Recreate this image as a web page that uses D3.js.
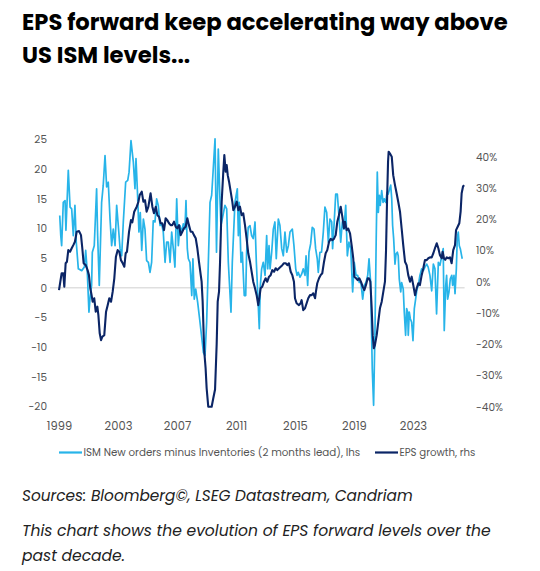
<!DOCTYPE html>
<html>
<head>
<meta charset="utf-8">
<script src="https://cdn.jsdelivr.net/npm/d3@7"></script>
<style>
  body { margin: 0; background: #fff; }
  text { font-family: Poppins, Inter, "Open Sans", sans-serif; }
</style>
</head>
<body>
<div id="chart"></div>
<script>
// ISM new orders minus inventories (2 months lead), lhs
var ismDates = [1999.05,1999.12,1999.18,1999.29,1999.41,1999.47,1999.63,1999.75,1999.86,1999.97,
  2000.08,2000.17,2000.31,2000.54,2000.72,2000.81,2000.92,2001.03,2001.12,2001.21,2001.26,2001.39,
  2001.55,2001.62,2001.73,2001.89,2002.00,2002.12,2002.23,2002.34,2002.46,2002.57,2002.68,2002.80,
  2002.91,2003.02,2003.14,2003.25,2003.36,2003.52,2003.66,2003.75,2003.88,2004.04,2004.15,2004.22,
  2004.32,2004.42,2004.51,2004.61,2004.72,2004.83,2004.94,2005.06,2005.17,2005.28,2005.39,2005.51,
  2005.62,2005.73,2005.85,2005.96,2006.07,2006.19,2006.30,2006.41,2006.53,2006.64,2006.75,2006.86,
  2006.98,2007.09,2007.20,2007.32,2007.43,2007.54,2007.61,2007.70,2007.77,2007.88,2008.00,2008.08,
  2008.17,2008.27,2008.40,2008.56,2008.79,2008.90,2009.01,2009.12,2009.24,2009.35,2009.46,2009.58,
  2009.68,2009.80,2009.92,2009.98,2010.25,2010.37,2010.48,2010.66,2010.75,2010.93,2011.09,2011.16,
  2011.22,2011.34,2011.43,2011.56,2011.66,2011.72,2011.83,2011.95,2012.06,2012.17,2012.29,2012.38,
  2012.47,2012.58,2012.65,2012.74,2012.85,2012.97,2013.08,2013.15,2013.24,2013.31,2013.42,2013.53,
  2013.64,2013.73,2013.87,2013.98,2014.10,2014.21,2014.32,2014.44,2014.55,2014.66,2014.82,2014.93,
  2015.05,2015.14,2015.22,2015.34,2015.45,2015.56,2015.68,2015.75,2015.86,2015.95,2016.06,2016.17,
  2016.29,2016.40,2016.51,2016.58,2016.69,2016.80,2016.92,2017.03,2017.15,2017.26,2017.37,2017.49,
  2017.55,2017.66,2017.76,2017.87,2017.98,2018.10,2018.21,2018.32,2018.44,2018.55,2018.66,2018.78,
  2018.91,2019.02,2019.14,2019.25,2019.36,2019.47,2019.59,2019.70,2019.81,2019.93,2020.02,2020.13,
  2020.24,2020.33,2020.42,2020.51,2020.58,2020.65,2020.72,2020.78,2020.88,2020.97,2021.05,2021.15,
  2021.24,2021.32,2021.42,2021.49,2021.56,2021.62,2021.69,2021.78,2021.85,2021.94,2022.00,2022.07,
  2022.17,2022.23,2022.34,2022.41,2022.50,2022.57,2022.64,2022.68,2022.75,2022.82,2022.91,2023.00,
  2023.09,2023.18,2023.27,2023.36,2023.47,2023.59,2023.70,2023.81,2023.93,2024.03,2024.15,2024.27,
  2024.38,2024.49,2024.60,2024.72,2024.83,2024.95,2025.05,2025.12,2025.22,2025.28,2025.35,2025.44,
  2025.53,2025.63,2025.69,2025.78,2025.85,2025.94,2026.00,2026.07,2026.14,2026.21,2026.30,2026.34];
var ismValues = [12.2,8.8,7.1,14.4,14.7,9.7,19.8,13.6,13.3,8.8,
  13.9,7.7,3.2,2.9,3.5,6.3,2.6,-4.1,-1.3,0.4,6.0,7.1,
  16.7,8.8,0.4,14.4,17.3,22.3,17.0,17.8,11.6,7.1,9.9,7.1,
  13.9,10.5,6.6,5.4,11.1,17.8,18.1,19.5,24.8,21.2,16.7,21.8,
  16.1,9.4,12.7,6.3,11.6,9.9,4.6,4.3,2.6,4.3,11.3,11.1,
  15.0,13.9,10.5,10.8,9.4,4.3,7.7,7.7,4.3,9.4,6.6,3.5,
  15.0,7.1,10.5,9.4,10.8,9.9,14.7,6.6,4.9,4.3,-1.3,4.9,
  -1.9,-0.2,-2.4,-5.8,-10.9,-11.4,-5.8,3.8,14.4,15.6,20.1,25.1,
  6.0,23.4,14.4,10.5,13.9,13.3,4.3,-4.1,4.3,14.4,16.7,8.8,
  14.4,4.3,6.0,-1.3,-1.3,6.0,10.2,10.5,8.8,8.3,11.1,4.3,
  -0.7,-6.9,0.4,3.2,4.3,2.1,8.8,3.2,7.1,3.2,6.0,9.9,
  11.1,4.9,11.6,10.5,6.6,5.4,9.4,6.0,7.1,9.4,9.9,7.1,
  3.2,2.1,2.6,1.8,2.3,3.2,2.1,5.4,0.4,6.0,7.4,10.2,
  9.9,6.6,4.9,2.6,6.0,6.0,9.4,13.6,12.7,7.7,11.6,11.1,
  6.6,11.1,15.8,15.8,12.2,7.7,11.1,9.9,13.9,5.4,7.7,6.6,
  -0.7,4.3,2.1,2.1,0.9,0.9,-1.9,0.4,0.9,2.1,4.9,0.9,
  -13.7,-19.8,-8.0,8.8,19.5,12.7,15.6,13.9,16.4,14.4,15.0,14.4,
  16.1,15.8,16.7,17.3,15.0,10.5,8.3,4.0,5.7,6.0,5.4,1.5,
  -0.7,0.9,-0.2,-4.1,-8.0,-3.5,-4.1,-8.0,-4.1,-5.2,-5.8,-8.9,
  -3.5,-1.9,-0.2,0.4,2.1,3.2,2.9,3.5,4.0,3.5,2.1,-0.5,
  4.0,3.2,-4.4,4.3,3.8,5.4,6.6,-7.2,0.4,2.1,-1.9,-0.7,
  1.5,2.1,0.4,2.1,-1.0,3.2,8.3,9.4,7.1,6.6,5.4,4.9];

// EPS growth, rhs (%)
var epsDates = [1999.00,1999.09,1999.18,1999.29,1999.36,1999.45,1999.54,1999.63,1999.75,1999.86,1999.97,
  2000.08,2000.20,2000.36,2000.49,2000.58,2000.67,2000.81,2000.94,2001.03,2001.12,2001.21,2001.28,
  2001.39,2001.49,2001.60,2001.67,2001.76,2001.85,2001.94,2002.07,2002.19,2002.30,2002.41,2002.53,
  2002.64,2002.75,2002.86,2002.98,2003.09,2003.20,2003.32,2003.43,2003.52,2003.61,2003.75,2003.88,
  2003.97,2004.10,2004.27,2004.38,2004.47,2004.61,2004.72,2004.83,2004.94,2005.06,2005.21,2005.33,
  2005.44,2005.56,2005.67,2005.78,2005.89,2006.00,2006.12,2006.23,2006.34,2006.46,2006.57,2006.68,
  2006.80,2006.91,2007.02,2007.14,2007.25,2007.36,2007.47,2007.59,2007.70,2007.81,2007.93,2008.04,
  2008.15,2008.27,2008.38,2008.49,2008.61,2008.67,2008.74,2008.81,2008.85,2008.94,2009.01,2009.12,
  2009.35,2009.46,2009.58,2009.69,2009.76,2009.85,2009.92,2010.03,2010.14,2010.21,2010.30,2010.37,
  2010.44,2010.53,2010.64,2010.75,2010.82,2010.93,2011.05,2011.16,2011.27,2011.38,2011.49,2011.61,
  2011.72,2011.83,2011.95,2012.06,2012.17,2012.29,2012.40,2012.51,2012.58,2012.67,2012.78,2012.90,
  2013.01,2013.12,2013.24,2013.35,2013.46,2013.58,2013.69,2013.80,2013.92,2014.03,2014.14,2014.25,
  2014.37,2014.48,2014.59,2014.71,2014.82,2014.93,2015.00,2015.11,2015.27,2015.38,2015.45,2015.56,
  2015.68,2015.79,2015.90,2016.02,2016.13,2016.24,2016.36,2016.42,2016.51,2016.63,2016.74,2016.85,
  2016.97,2017.08,2017.19,2017.31,2017.42,2017.53,2017.64,2017.76,2017.87,2017.98,2018.10,2018.21,
  2018.32,2018.39,2018.50,2018.61,2018.73,2018.84,2018.95,2019.02,2019.14,2019.25,2019.36,2019.47,
  2019.59,2019.70,2019.81,2019.93,2020.02,2020.11,2020.20,2020.27,2020.34,2020.42,2020.54,2020.65,
  2020.76,2020.88,2020.99,2021.10,2021.17,2021.24,2021.31,2021.35,2021.44,2021.56,2021.66,2021.78,
  2021.89,2022.00,2022.12,2022.23,2022.34,2022.46,2022.57,2022.68,2022.80,2022.91,2023.02,2023.14,
  2023.25,2023.36,2023.47,2023.59,2023.70,2023.81,2023.93,2024.04,2024.15,2024.27,2024.38,2024.49,
  2024.61,2024.72,2024.83,2024.95,2025.01,2025.10,2025.19,2025.29,2025.40,2025.51,2025.62,2025.73,
  2025.85,2025.92,2026.03,2026.14,2026.23,2026.30,2026.39,2026.46];
var epsValues = [-2.7,0.0,2.7,2.7,-1.6,5.9,6.4,10.1,9.6,10.7,11.7,
  12.8,16.0,16.2,14.9,10.7,5.9,5.3,3.7,2.1,-2.1,-4.3,-6.4,
  -5.3,-9.6,-8.0,-10.7,-16.5,-18.7,-17.6,-17.1,-9.6,-7.5,-5.3,-6.4,
  -3.2,1.1,8.0,10.1,9.6,6.9,5.9,4.8,9.1,9.6,16.0,19.7,
  19.0,22.4,24.0,25.5,27.7,28.8,25.6,26.1,22.4,24.0,28.3,24.0,
  21.9,24.0,21.3,20.8,18.7,18.7,16.5,20.3,19.7,18.7,18.1,18.1,
  19.2,17.6,17.1,18.1,14.9,16.0,17.1,17.6,20.3,18.1,16.0,16.0,
  14.9,13.9,10.7,6.4,2.1,0.0,-6.4,-17.1,-22.4,-27.7,-34.1,-40.0,
  -40.0,-37.3,-34.5,-20.0,-6.4,-3.2,6.4,25.6,35.2,40.5,35.2,37.3,
  34.1,32.0,28.8,25.6,22.9,24.0,25.6,22.9,24.0,21.3,21.9,18.1,
  13.9,9.1,6.4,3.2,0.0,-2.1,-4.3,-7.5,-5.3,-2.1,-1.6,0.0,
  1.1,0.0,1.6,2.1,3.7,3.2,4.3,3.7,4.3,4.8,5.3,5.9,
  5.9,5.3,5.9,3.2,2.1,0.0,-5.3,-6.9,-7.5,-6.9,-5.9,-9.1,
  -8.5,-6.9,-5.3,-4.3,-4.3,-3.7,-5.3,-3.2,-0.5,1.1,2.1,2.7,
  6.4,9.1,10.1,12.8,13.7,13.3,13.7,14.9,19.2,21.3,24.0,20.8,
  17.1,19.2,16.5,17.0,15.5,11.7,7.5,1.6,1.1,0.5,1.1,0.0,
  -1.6,-2.7,-1.1,1.1,1.1,0.0,-8.5,-17.1,-21.3,-20.3,-17.1,-12.8,
  -8.5,-6.4,-3.2,0.0,9.6,25.6,38.4,41.6,41.0,40.0,34.1,30.9,
  28.3,25.6,22.4,17.1,11.7,6.4,5.3,2.1,0.0,1.6,-1.1,-4.3,
  -2.1,-0.5,-1.1,2.1,4.3,6.9,6.9,7.5,7.8,7.8,9.1,10.7,
  12.3,10.7,8.5,7.5,9.6,7.5,7.0,7.8,7.5,7.8,5.9,10.1,
  11.7,16.5,17.6,18.7,22.4,28.3,30.4,30.9];

var xTickYears = [1999, 2003, 2007, 2011, 2015, 2019, 2023];
var leftTicks = [-20, -15, -10, -5, 0, 5, 10, 15, 20, 25];
var rightTicks = [-40, -30, -20, -10, 0, 10, 20, 30, 40];
var seriesNames = ["ISM New orders minus Inventories (2 months lead), lhs", "EPS growth, rhs"];
var seriesColors = ["#27b4e9", "#0b2566"];

var width = 540, height = 571;

var svg = d3.select("#chart")
  .append("svg")
    .attr("width", width)
    .attr("height", height)
    .style("background", "#fff");

// shrink or grow a text so it spans the wanted width
function fitText(sel, target) {
  var len = sel.node().getComputedTextLength();
  var fs = parseFloat(sel.attr("font-size"));
  sel.attr("font-size", (fs * target / len).toFixed(2));
}

// title
var t1 = svg.append("text").attr("x", 22).attr("y", 29.5)
  .attr("font-size", 20).attr("font-weight", 700).attr("fill", "#000")
  .text("EPS forward keep accelerating way above");
fitText(t1, 486);
svg.append("text").attr("x", 22).attr("y", 62.5)
  .attr("font-size", t1.attr("font-size")).attr("font-weight", 700).attr("fill", "#000")
  .text("US ISM levels...");

// scales
var x = d3.scaleLinear().domain([1999, 2026.5]).range([59, 464.6]);
var yL = d3.scaleLinear().domain([-20, 25]).range([406.5, 139.5]);
var yR = d3.scaleLinear().domain([-40, 40]).range([406.7, 156.7]);

// zero line
svg.append("line")
  .attr("x1", 50).attr("x2", x(2026.5))
  .attr("y1", yL(0)).attr("y2", yL(0))
  .attr("stroke", "#cfcfcf").attr("stroke-width", 1);

// axes (labels only)
var axL = svg.append("g").attr("transform", "translate(49,0)")
  .call(d3.axisLeft(yL).tickValues(leftTicks).tickSize(0).tickPadding(2).tickFormat(function(d){ return String(d); }));
var axR = svg.append("g").attr("transform", "translate(474,0)")
  .call(d3.axisRight(yR).tickValues(rightTicks).tickSize(0).tickPadding(2).tickFormat(function(d){ return d + "%"; }));
var axB = svg.append("g").attr("transform", "translate(0,421)")
  .call(d3.axisBottom(x).tickValues(xTickYears).tickSize(0).tickPadding(1).tickFormat(function(d){ return String(d); }));
[axL, axR, axB].forEach(function(a) {
  a.select(".domain").remove();
  a.selectAll("text")
    .attr("font-family", "Poppins, Inter, 'Open Sans', sans-serif")
    .attr("font-size", 10.5)
    .attr("fill", "#555");
});
axB.selectAll("text").attr("font-size", 11.5);

// lines
var ismData = ismDates.map(function(d, i){ return [d, ismValues[i]]; });
var epsData = epsDates.map(function(d, i){ return [d, epsValues[i]]; });

svg.append("path")
  .datum(ismData)
  .attr("fill", "none")
  .attr("stroke", seriesColors[0])
  .attr("stroke-width", 1.7)
  .attr("stroke-linejoin", "round")
  .attr("d", d3.line().x(function(d){ return x(d[0]); }).y(function(d){ return yL(d[1]); }));

svg.append("path")
  .datum(epsData)
  .attr("fill", "none")
  .attr("stroke", seriesColors[1])
  .attr("stroke-width", 2.1)
  .attr("stroke-linejoin", "round")
  .attr("d", d3.line().x(function(d){ return x(d[0]); }).y(function(d){ return yR(d[1]); }));

// legend
var legY = 452.5;
var legItems = [{x0: 59, x1: 82, tx: 83.5, w: 277}, {x0: 375, x1: 398, tx: 399.5, w: 76}];
legItems.forEach(function(it, i) {
  svg.append("line")
    .attr("x1", it.x0).attr("x2", it.x1).attr("y1", legY).attr("y2", legY)
    .attr("stroke", seriesColors[i]).attr("stroke-width", 2.2);
  var lt = svg.append("text").attr("x", it.tx).attr("y", legY).attr("dy", "0.35em")
    .attr("font-size", 10).attr("fill", "#555").text(seriesNames[i]);
  fitText(lt, it.w);
});

// sources and note
var s1 = svg.append("text").attr("x", 22).attr("y", 500.5)
  .attr("font-size", 15).attr("font-style", "italic").attr("fill", "#222")
  .text("Sources: Bloomberg\u00a9, LSEG Datastream, Candriam");
fitText(s1, 391);
var s2 = svg.append("text").attr("x", 22).attr("y", 536)
  .attr("font-size", 15).attr("font-style", "italic").attr("fill", "#222")
  .text("This chart shows the evolution of EPS forward levels over the");
fitText(s2, 469);
svg.append("text").attr("x", 22).attr("y", 560.5)
  .attr("font-size", s2.attr("font-size")).attr("font-style", "italic").attr("fill", "#222")
  .text("past decade.");
</script>
</body>
</html>
